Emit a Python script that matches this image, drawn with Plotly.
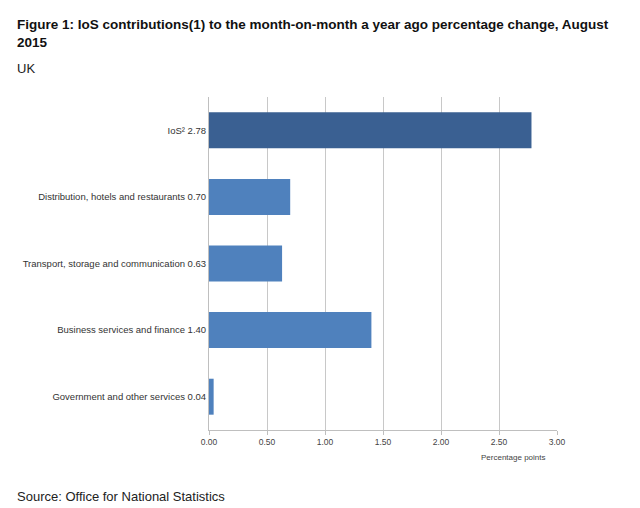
import plotly.graph_objects as go

categories = ["IoS\u00b2 2.78", "Distribution, hotels and restaurants 0.70",
              "Transport, storage and communication 0.63",
              "Business services and finance 1.40",
              "Government and other services 0.04"]
values = [2.78, 0.70, 0.63, 1.40, 0.04]
colors = ["#3a6092", "#4f81bd", "#4f81bd", "#4f81bd", "#4f81bd"]
tick_vals = [0, 0.5, 1.0, 1.5, 2.0, 2.5, 3.0]
tick_text = ["0.00", "0.50", "1.00", "1.50", "2.00", "2.50", "3.00"]

W, H = 640, 508
PL, PR, PT, PB = 209, 557, 97, 430
PW, PH = PR - PL, PB - PT

fig = go.Figure(go.Bar(
    x=values, y=categories, orientation="h",
    marker=dict(color=colors, line=dict(color="#ffffff", width=0)),
    width=0.54,
))

fig.update_layout(
    width=W, height=H,
    margin=dict(l=PL, r=W - PR, t=PT, b=H - PB),
    plot_bgcolor="white", paper_bgcolor="white",
    font=dict(family="Liberation Sans, Arial, sans-serif", color="#333333"),
    showlegend=False,
    xaxis=dict(range=[0, 3.0], tickvals=tick_vals, ticktext=tick_text,
               showgrid=True, gridcolor="#c8c8c8", gridwidth=1,
               showline=True, linecolor="#bfbfbf", linewidth=1,
               ticks="outside", ticklen=4, tickcolor="#bfbfbf",
               tickfont=dict(size=8.5, color="#444444"), zeroline=False),
    yaxis=dict(autorange="reversed", showline=True, linecolor="#bfbfbf",
               linewidth=1, ticks="", tickfont=dict(size=9.5, color="#333333"),
               showgrid=False, ticksuffix=""),
)

def px(x):
    return (x - PL) / PW

def py(y):
    return (PB - y) / PH

fig.add_annotation(text="<b>Figure 1: IoS contributions(1) to the month-on-month a year ago percentage change, August<br>2015</b>",
                   xref="paper", yref="paper", x=px(15), y=py(15),
                   xanchor="left", yanchor="top", align="left", showarrow=False,
                   font=dict(size=13.5, color="#111111"))
fig.add_annotation(text="UK", xref="paper", yref="paper", x=px(15), y=py(59),
                   xanchor="left", yanchor="top", showarrow=False,
                   font=dict(size=13, color="#222222"))
fig.add_annotation(text="Percentage points", xref="paper", yref="paper",
                   x=px(513), y=py(451), xanchor="center", yanchor="top",
                   showarrow=False, font=dict(size=8, color="#444444"))
fig.add_annotation(text="Source: Office for National Statistics", xref="paper", yref="paper",
                   x=px(15), y=py(487), xanchor="left", yanchor="top",
                   showarrow=False, font=dict(size=13, color="#222222"))

fig.write_html("out.html", config={"displayModeBar": False},
               post_script="document.body.style.margin='0';document.body.style.overflow='hidden';")
